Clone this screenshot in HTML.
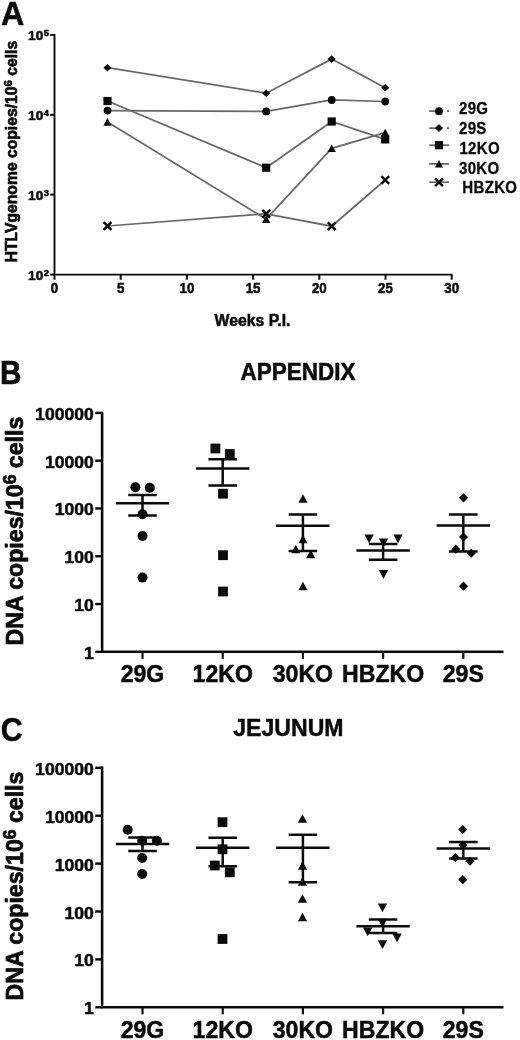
<!DOCTYPE html>
<html><head><meta charset="utf-8"><title>Figure</title>
<style>
html,body{margin:0;padding:0;background:#fff;}
body{width:520px;height:1040px;overflow:hidden;}
svg{display:block;filter:blur(0.45px);}
text{font-family:"Liberation Sans",Arial,Helvetica,sans-serif;font-weight:bold;fill:#0a0a0a;stroke:#0a0a0a;stroke-width:0.5px;stroke-linejoin:round;}
.ax{stroke:#0a0a0a;fill:none;}
.ln{stroke:#686868;stroke-width:1.75;fill:none;}
.mk{fill:#0a0a0a;stroke:none;}
</style></head><body>
<svg width="520" height="1040" viewBox="0 0 520 1040">
<rect width="520" height="1040" fill="#fff"/>

<!-- Panel A -->
<text transform="translate(1,25) scale(1.0,1)" font-size="32.3" text-anchor="start">A</text>
<path class="ax" stroke-width="1.9" d="M54.5,33.9V274.6H452.4"/>
<path class="ax" stroke-width="2" d="M50.2,34.9H54.5"/>
<text transform="translate(28.1,40.2) scale(1.0,1)" font-size="13.6" text-anchor="start">10</text>
<text transform="translate(43.7,35.8) scale(1.0,1)" font-size="9.4" text-anchor="start">5</text>
<path class="ax" stroke-width="2" d="M50.2,114.8H54.5"/>
<text transform="translate(28.1,120.1) scale(1.0,1)" font-size="13.6" text-anchor="start">10</text>
<text transform="translate(43.7,115.7) scale(1.0,1)" font-size="9.4" text-anchor="start">4</text>
<path class="ax" stroke-width="2" d="M50.2,194.6H54.5"/>
<text transform="translate(28.1,199.9) scale(1.0,1)" font-size="13.6" text-anchor="start">10</text>
<text transform="translate(43.7,195.5) scale(1.0,1)" font-size="9.4" text-anchor="start">3</text>
<path class="ax" stroke-width="2" d="M50.2,274.6H54.5"/>
<text transform="translate(28.1,279.9) scale(1.0,1)" font-size="13.6" text-anchor="start">10</text>
<text transform="translate(43.7,275.5) scale(1.0,1)" font-size="9.4" text-anchor="start">2</text>
<path class="ax" stroke-width="2" d="M54.5,274.6V279.70000000000005"/>
<text transform="translate(54.5,293) scale(0.95,1)" font-size="14" text-anchor="middle">0</text>
<path class="ax" stroke-width="2" d="M120.7,274.6V279.70000000000005"/>
<text transform="translate(120.7,293) scale(0.95,1)" font-size="14" text-anchor="middle">5</text>
<path class="ax" stroke-width="2" d="M186.9,274.6V279.70000000000005"/>
<text transform="translate(186.9,293) scale(0.95,1)" font-size="14" text-anchor="middle">10</text>
<path class="ax" stroke-width="2" d="M253.1,274.6V279.70000000000005"/>
<text transform="translate(253.1,293) scale(0.95,1)" font-size="14" text-anchor="middle">15</text>
<path class="ax" stroke-width="2" d="M319.3,274.6V279.70000000000005"/>
<text transform="translate(319.3,293) scale(0.95,1)" font-size="14" text-anchor="middle">20</text>
<path class="ax" stroke-width="2" d="M385.5,274.6V279.70000000000005"/>
<text transform="translate(385.5,293) scale(0.95,1)" font-size="14" text-anchor="middle">25</text>
<path class="ax" stroke-width="2" d="M451.7,274.6V279.70000000000005"/>
<text transform="translate(451.7,293) scale(0.95,1)" font-size="14" text-anchor="middle">30</text>
<text transform="translate(252.5,325.7) scale(1.0,1)" font-size="15.8" text-anchor="middle">Weeks P.I.</text>
<text transform="translate(17.4,151.6) rotate(-90)" font-size="15.7" text-anchor="middle" style="stroke-width:0.6px">HTLVgenome copies/10<tspan dy="-5.2" font-size="11.5">6</tspan><tspan dy="5.2"> cells</tspan></text>
<polyline class="ln" points="107.5,67.7 266.2,93.2 331.7,59.1 385.2,87.7"/>
<polyline class="ln" points="107.5,110.6 266.2,111.4 331.7,100 385.2,101.5"/>
<polyline class="ln" points="107.5,101 266.2,167.7 331.7,121.5 385.2,139.4"/>
<polyline class="ln" points="107.5,122 266.2,219.2 331.7,148.3 385.2,132.6"/>
<polyline class="ln" points="107.5,226 266.2,213.8 331.7,226.2 385.2,180"/>
<polygon class="mk" points="107.5,63.89 111.6,67.7 107.5,71.51 103.4,67.7"/>
<polygon class="mk" points="266.2,89.39 270.3,93.2 266.2,97.01 262.1,93.2"/>
<polygon class="mk" points="331.7,55.29 335.8,59.1 331.7,62.91 327.6,59.1"/>
<polygon class="mk" points="385.2,83.89 389.3,87.7 385.2,91.51 381.1,87.7"/>
<circle class="mk" cx="107.5" cy="110.6" r="3.9"/>
<circle class="mk" cx="266.2" cy="111.4" r="3.9"/>
<circle class="mk" cx="331.7" cy="100" r="3.9"/>
<circle class="mk" cx="385.2" cy="101.5" r="3.9"/>
<rect class="mk" x="103.4" y="96.9" width="8.2" height="8.2"/>
<rect class="mk" x="262.1" y="163.6" width="8.2" height="8.2"/>
<rect class="mk" x="327.6" y="117.4" width="8.2" height="8.2"/>
<rect class="mk" x="381.1" y="135.3" width="8.2" height="8.2"/>
<polygon class="mk" points="107.5,118.11 111.6,125.69 103.4,125.69"/>
<polygon class="mk" points="266.2,215.3 270.3,222.89 262.1,222.89"/>
<polygon class="mk" points="331.7,144.41 335.8,151.99 327.6,151.99"/>
<polygon class="mk" points="385.2,128.7 389.3,136.29 381.1,136.29"/>
<path d="M103.6,222.1L111.4,229.9M103.6,229.9L111.4,222.1" stroke="#0a0a0a" stroke-width="2.5" fill="none"/>
<path d="M262.3,209.9L270.1,217.7M262.3,217.7L270.1,209.9" stroke="#0a0a0a" stroke-width="2.5" fill="none"/>
<path d="M327.8,222.3L335.6,230.1M327.8,230.1L335.6,222.3" stroke="#0a0a0a" stroke-width="2.5" fill="none"/>
<path d="M381.3,176.1L389.1,183.9M381.3,183.9L389.1,176.1" stroke="#0a0a0a" stroke-width="2.5" fill="none"/>
<path class="ln" d="M429.2,111.2H439M447,111.2H449"/>
<circle class="mk" cx="439" cy="111.2" r="3.9"/>
<text transform="translate(459,114.4) scale(0.885,1)" font-size="17" text-anchor="start" style="stroke-width:0.3px;letter-spacing:0.35px">29G</text>
<path class="ln" d="M429.2,128.1H439M447,128.1H449"/>
<polygon class="mk" points="439,124.29 443.1,128.1 439,131.91 434.9,128.1"/>
<text transform="translate(459,134.2) scale(0.885,1)" font-size="17" text-anchor="start" style="stroke-width:0.3px;letter-spacing:0.35px">29S</text>
<path class="ln" d="M429.2,145.2H449"/>
<rect class="mk" x="434.9" y="141.1" width="8.2" height="8.2"/>
<text transform="translate(459.4,154.2) scale(0.885,1)" font-size="17" text-anchor="start" style="stroke-width:0.3px;letter-spacing:0.35px">12KO</text>
<path class="ln" d="M429.2,163.9H449"/>
<polygon class="mk" points="439,160 443.1,167.59 434.9,167.59"/>
<text transform="translate(459,173.8) scale(0.885,1)" font-size="17" text-anchor="start" style="stroke-width:0.3px;letter-spacing:0.35px">30KO</text>
<path class="ln" d="M429.2,182.2H449"/>
<path d="M435.1,178.3L442.9,186.1M435.1,186.1L442.9,178.3" stroke="#0a0a0a" stroke-width="2.5" fill="none"/>
<text transform="translate(462.3,192.8) scale(0.885,1)" font-size="17" text-anchor="start" style="stroke-width:0.3px;letter-spacing:0.35px">HBZKO</text>
<!-- Panel B -->
<text transform="translate(-0.1,383.7) scale(0.92,1)" font-size="32.3" text-anchor="start">B</text>
<text transform="translate(298,380.1) scale(0.962,1)" font-size="23.4" text-anchor="middle">APPENDIX</text>
<path class="ax" stroke-width="2.6" d="M102.1,411.7V651.8H503.5"/>
<path class="ax" stroke-width="2.4" d="M95.3,412.9H102.1"/>
<text transform="translate(93.7,419.9) scale(1.01,1)" font-size="17.4" text-anchor="end">100000</text>
<path class="ax" stroke-width="2.4" d="M95.3,460.68H102.1"/>
<text transform="translate(93.7,467.68) scale(1.01,1)" font-size="17.4" text-anchor="end">10000</text>
<path class="ax" stroke-width="2.4" d="M95.3,508.46H102.1"/>
<text transform="translate(93.7,515.46) scale(1.01,1)" font-size="17.4" text-anchor="end">1000</text>
<path class="ax" stroke-width="2.4" d="M95.3,556.24H102.1"/>
<text transform="translate(93.7,563.24) scale(1.01,1)" font-size="17.4" text-anchor="end">100</text>
<path class="ax" stroke-width="2.4" d="M95.3,604.02H102.1"/>
<text transform="translate(93.7,611.02) scale(1.01,1)" font-size="17.4" text-anchor="end">10</text>
<path class="ax" stroke-width="2.4" d="M95.3,651.8H102.1"/>
<text transform="translate(93.7,658.8) scale(1.01,1)" font-size="17.4" text-anchor="end">1</text>
<path class="ax" stroke-width="2.2" d="M142.5,651.8V658.8"/>
<text transform="translate(142.5,682.2) scale(0.97,1)" font-size="23.8" text-anchor="middle">29G</text>
<path class="ax" stroke-width="2.2" d="M222.7,651.8V658.8"/>
<text transform="translate(222.7,682.2) scale(0.97,1)" font-size="23.8" text-anchor="middle">12KO</text>
<path class="ax" stroke-width="2.2" d="M302.9,651.8V658.8"/>
<text transform="translate(302.9,682.2) scale(0.97,1)" font-size="23.8" text-anchor="middle">30KO</text>
<path class="ax" stroke-width="2.2" d="M383.1,651.8V658.8"/>
<text transform="translate(383.1,682.2) scale(0.97,1)" font-size="23.8" text-anchor="middle">HBZKO</text>
<path class="ax" stroke-width="2.2" d="M463.3,651.8V658.8"/>
<text transform="translate(463.3,682.2) scale(0.97,1)" font-size="23.8" text-anchor="middle">29S</text>
<text transform="translate(23.2,531.1) rotate(-90) scale(1,1.0)" font-size="23.15" text-anchor="middle" style="stroke-width:0.7px">DNA copies/10<tspan dy="-7.7" font-size="17.5">6</tspan><tspan dy="7.7"> cells</tspan></text>
<circle class="mk" cx="135.4" cy="487.2" r="5.0"/>
<circle class="mk" cx="149.8" cy="487.7" r="5.0"/>
<circle class="mk" cx="142.5" cy="514.3" r="5.0"/>
<circle class="mk" cx="142.5" cy="536" r="5.0"/>
<circle class="mk" cx="142.5" cy="577.6" r="5.0"/>
<path class="ax" stroke-width="2.5" d="M115.8,503.2H169.2M128.2,515.6H156.8M128.2,495.0H156.8M142.5,515.6V495.0"/>
<rect class="mk" x="210.5" y="443.6" width="9.8" height="9.8"/>
<rect class="mk" x="224.9" y="449.1" width="9.8" height="9.8"/>
<rect class="mk" x="218.1" y="488.8" width="9.8" height="9.8"/>
<rect class="mk" x="218.1" y="550.3" width="9.8" height="9.8"/>
<rect class="mk" x="218.1" y="586.6" width="9.8" height="9.8"/>
<path class="ax" stroke-width="2.5" d="M196,468.5H249.4M208.4,485.4H237M208.4,459.2H237M222.7,485.4V459.2"/>
<polygon class="mk" points="303,494.33 307.6,502.84 298.4,502.84"/>
<polygon class="mk" points="303,534.83 307.6,543.34 298.4,543.34"/>
<polygon class="mk" points="295.8,544.83 300.4,553.34 291.2,553.34"/>
<polygon class="mk" points="310.7,549.83 315.3,558.34 306.1,558.34"/>
<polygon class="mk" points="303,581.63 307.6,590.14 298.4,590.14"/>
<path class="ax" stroke-width="2.5" d="M276.2,525.7H329.6M288.6,551H317.2M288.6,514.6H317.2M302.9,551V514.6"/>
<polygon class="mk" points="369.1,543.17 373.8,534.47 364.4,534.47"/>
<polygon class="mk" points="398,543.17 402.7,534.47 393.3,534.47"/>
<polygon class="mk" points="383.5,547.26 388.2,538.57 378.8,538.57"/>
<polygon class="mk" points="383.5,578.67 388.2,569.97 378.8,569.97"/>
<path class="ax" stroke-width="2.5" d="M356.4,550.5H409.8M368.8,559.7H397.4M368.8,543.9H397.4M383.1,559.7V543.9"/>
<polygon class="mk" points="463.5,493.2 468.1,497.8 463.5,502.4 458.9,497.8"/>
<polygon class="mk" points="463.5,532.4 468.1,537 463.5,541.6 458.9,537"/>
<polygon class="mk" points="455.8,544.6 460.4,549.2 455.8,553.8 451.2,549.2"/>
<polygon class="mk" points="471.2,548.6 475.8,553.2 471.2,557.8 466.6,553.2"/>
<polygon class="mk" points="463.5,581.6 468.1,586.2 463.5,590.8 458.9,586.2"/>
<path class="ax" stroke-width="2.5" d="M436.6,525.5H490M449,551.4H477.6M449,514.5H477.6M463.3,551.4V514.5"/>
<!-- Panel C -->
<text transform="translate(0.7,741.2) scale(0.94,1)" font-size="32.3" text-anchor="start">C</text>
<text transform="translate(288.4,735.7) scale(0.962,1)" font-size="24" text-anchor="middle">JEJUNUM</text>
<path class="ax" stroke-width="2.6" d="M102.1,766.6V1007.3H503.5"/>
<path class="ax" stroke-width="2.4" d="M95.3,767.8H102.1"/>
<text transform="translate(93.7,774.8) scale(1.01,1)" font-size="17.4" text-anchor="end">100000</text>
<path class="ax" stroke-width="2.4" d="M95.3,815.7H102.1"/>
<text transform="translate(93.7,822.7) scale(1.01,1)" font-size="17.4" text-anchor="end">10000</text>
<path class="ax" stroke-width="2.4" d="M95.3,863.6H102.1"/>
<text transform="translate(93.7,870.6) scale(1.01,1)" font-size="17.4" text-anchor="end">1000</text>
<path class="ax" stroke-width="2.4" d="M95.3,911.5H102.1"/>
<text transform="translate(93.7,918.5) scale(1.01,1)" font-size="17.4" text-anchor="end">100</text>
<path class="ax" stroke-width="2.4" d="M95.3,959.4H102.1"/>
<text transform="translate(93.7,966.4) scale(1.01,1)" font-size="17.4" text-anchor="end">10</text>
<path class="ax" stroke-width="2.4" d="M95.3,1007.3H102.1"/>
<text transform="translate(93.7,1014.3) scale(1.01,1)" font-size="17.4" text-anchor="end">1</text>
<path class="ax" stroke-width="2.2" d="M142.5,1007.3V1014.3"/>
<text transform="translate(142.5,1037.7) scale(0.97,1)" font-size="23.8" text-anchor="middle">29G</text>
<path class="ax" stroke-width="2.2" d="M222.7,1007.3V1014.3"/>
<text transform="translate(222.7,1037.7) scale(0.97,1)" font-size="23.8" text-anchor="middle">12KO</text>
<path class="ax" stroke-width="2.2" d="M302.9,1007.3V1014.3"/>
<text transform="translate(302.9,1037.7) scale(0.97,1)" font-size="23.8" text-anchor="middle">30KO</text>
<path class="ax" stroke-width="2.2" d="M383.1,1007.3V1014.3"/>
<text transform="translate(383.1,1037.7) scale(0.97,1)" font-size="23.8" text-anchor="middle">HBZKO</text>
<path class="ax" stroke-width="2.2" d="M463.3,1007.3V1014.3"/>
<text transform="translate(463.3,1037.7) scale(0.97,1)" font-size="23.8" text-anchor="middle">29S</text>
<text transform="translate(23.2,886) rotate(-90) scale(1,1.0)" font-size="23.15" text-anchor="middle" style="stroke-width:0.7px">DNA copies/10<tspan dy="-7.7" font-size="17.5">6</tspan><tspan dy="7.7"> cells</tspan></text>
<circle class="mk" cx="127.7" cy="829.8" r="5.0"/>
<circle class="mk" cx="142.2" cy="840.8" r="5.0"/>
<circle class="mk" cx="156.9" cy="840.8" r="5.0"/>
<circle class="mk" cx="142.2" cy="858" r="5.0"/>
<circle class="mk" cx="142.2" cy="874" r="5.0"/>
<path class="ax" stroke-width="2.5" d="M115.8,844.1H169.2M128.2,850.9H156.8M128.2,837.6H156.8M142.5,850.9V837.6"/>
<rect class="mk" x="217.6" y="817.3" width="9.8" height="9.8"/>
<rect class="mk" x="217.6" y="844.4" width="9.8" height="9.8"/>
<rect class="mk" x="209.9" y="860.6" width="9.8" height="9.8"/>
<rect class="mk" x="224.9" y="867.4" width="9.8" height="9.8"/>
<rect class="mk" x="217.6" y="934.1" width="9.8" height="9.8"/>
<path class="ax" stroke-width="2.5" d="M196,847.7H249.4M208.4,866.2H237M208.4,837.8H237M222.7,866.2V837.8"/>
<polygon class="mk" points="302.5,814.13 307.1,822.64 297.9,822.64"/>
<polygon class="mk" points="302.5,861.13 307.1,869.64 297.9,869.64"/>
<polygon class="mk" points="302.5,877.13 307.1,885.64 297.9,885.64"/>
<polygon class="mk" points="302.5,894.13 307.1,902.64 297.9,902.64"/>
<polygon class="mk" points="302.5,912.63 307.1,921.14 297.9,921.14"/>
<path class="ax" stroke-width="2.5" d="M276.2,847.7H329.6M288.6,882.2H317.2M288.6,834.8H317.2M302.9,882.2V834.8"/>
<polygon class="mk" points="382.5,912.17 387.2,903.47 377.8,903.47"/>
<polygon class="mk" points="367.7,936.17 372.4,927.47 363,927.47"/>
<polygon class="mk" points="382.5,927.47 387.2,918.77 377.8,918.77"/>
<polygon class="mk" points="397,942.26 401.7,933.57 392.3,933.57"/>
<polygon class="mk" points="382.5,949.07 387.2,940.37 377.8,940.37"/>
<path class="ax" stroke-width="2.5" d="M356.4,926.2H409.8M368.8,933H397.4M368.8,919.4H397.4M383.1,933V919.4"/>
<polygon class="mk" points="462.8,824.9 467.4,829.5 462.8,834.1 458.2,829.5"/>
<polygon class="mk" points="462.8,840.4 467.4,845 462.8,849.6 458.2,845"/>
<polygon class="mk" points="455.4,853.1 460,857.7 455.4,862.3 450.8,857.7"/>
<polygon class="mk" points="470,856.6 474.6,861.2 470,865.8 465.4,861.2"/>
<polygon class="mk" points="462.8,875.1 467.4,879.7 462.8,884.3 458.2,879.7"/>
<path class="ax" stroke-width="2.5" d="M436.6,848.5H490M449,858.4H477.6M449,842H477.6M463.3,858.4V842"/>
</svg></body></html>
